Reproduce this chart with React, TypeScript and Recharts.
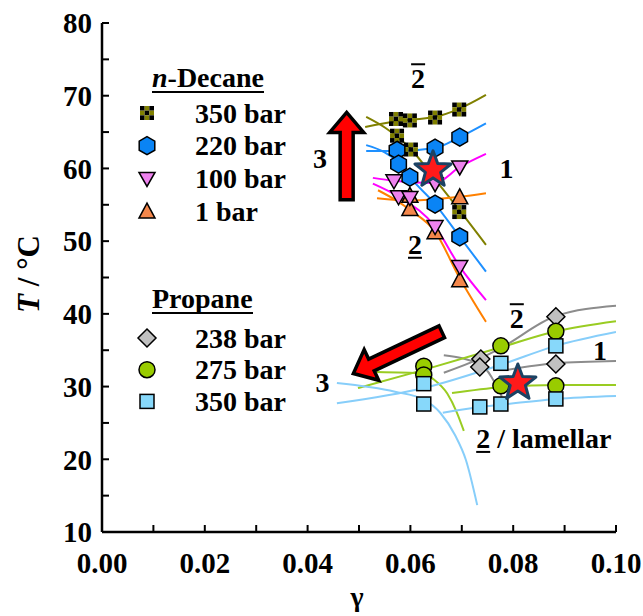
import React from "react";
import { ComposedChart, Line, Scatter, XAxis, YAxis, ReferenceLine } from "recharts";

const FONT = '"Liberation Serif", "Times New Roman", serif';

type Pt = { x: number; y: number };

// n-decane phase boundary points (gamma, T in °C)
const decane350: Pt[] = [
  { x: 0.0572, y: 66.8 }, { x: 0.0599, y: 66.6 }, { x: 0.0574, y: 64.5 }, { x: 0.0601, y: 62.6 },
  { x: 0.0648, y: 67.0 }, { x: 0.0695, y: 68.1 }, { x: 0.0695, y: 54.0 },
];
const decane220: Pt[] = [
  { x: 0.0574, y: 62.5 }, { x: 0.0648, y: 62.8 }, { x: 0.0696, y: 64.3 }, { x: 0.0577, y: 60.6 },
  { x: 0.0599, y: 58.8 }, { x: 0.0648, y: 55.1 }, { x: 0.0696, y: 50.6 },
];
const decane100: Pt[] = [
  { x: 0.0568, y: 58.3 }, { x: 0.0577, y: 56.1 }, { x: 0.0599, y: 56.0 }, { x: 0.0648, y: 52.0 },
  { x: 0.0696, y: 60.2 }, { x: 0.0696, y: 46.5 }, { x: 0.0648, y: 57.9 },
];
const decane1: Pt[] = [
  { x: 0.0599, y: 56.3 }, { x: 0.0599, y: 54.5 }, { x: 0.0648, y: 51.3 }, { x: 0.0696, y: 56.1 },
  { x: 0.0696, y: 44.7 },
];

// propane phase boundary points
const propane238: Pt[] = [
  { x: 0.0883, y: 39.6 }, { x: 0.0883, y: 33.1 }, { x: 0.0737, y: 33.8 }, { x: 0.0735, y: 32.7 },
];
const propane275: Pt[] = [
  { x: 0.0883, y: 37.6 }, { x: 0.0776, y: 35.6 }, { x: 0.0776, y: 30.1 }, { x: 0.0883, y: 30.1 },
  { x: 0.0626, y: 32.8 }, { x: 0.0626, y: 31.6 },
];
const propane350: Pt[] = [
  { x: 0.0883, y: 35.6 }, { x: 0.0776, y: 33.2 }, { x: 0.0776, y: 27.6 }, { x: 0.0735, y: 27.2 },
  { x: 0.0883, y: 28.3 }, { x: 0.0626, y: 30.4 }, { x: 0.0626, y: 27.6 },
];

// optimum formulations
const stars: Pt[] = [{ x: 0.0644, y: 59.8 }, { x: 0.0809, y: 30.5 }];

// guide curves, each read along the drawn boundary
const curves: { color: string; pts: Pt[] }[] = [
  { color: "#808000", pts: [{ x: 0.0512, y: 65.7 }, { x: 0.0572, y: 66.5 }, { x: 0.0648, y: 67.1 }, { x: 0.0695, y: 68.2 }, { x: 0.0747, y: 70.1 }] },
  { color: "#808000", pts: [{ x: 0.0514, y: 67.1 }, { x: 0.0551, y: 65.6 }, { x: 0.0599, y: 62.8 }, { x: 0.0648, y: 58.5 }, { x: 0.0695, y: 54.3 }, { x: 0.0747, y: 49.5 }] },
  { color: "#1E90FF", pts: [{ x: 0.0514, y: 62.4 }, { x: 0.0576, y: 62.4 }, { x: 0.0648, y: 62.8 }, { x: 0.0696, y: 64.3 }, { x: 0.0747, y: 66.2 }] },
  { color: "#1E90FF", pts: [{ x: 0.0514, y: 63.2 }, { x: 0.055, y: 62.2 }, { x: 0.0577, y: 60.8 }, { x: 0.0599, y: 58.8 }, { x: 0.0648, y: 55.1 }, { x: 0.0696, y: 50.6 }, { x: 0.0747, y: 45.8 }] },
  { color: "#FF00FF", pts: [{ x: 0.0527, y: 58.7 }, { x: 0.0568, y: 58.3 }, { x: 0.0648, y: 58.0 }, { x: 0.0696, y: 60.2 }, { x: 0.0747, y: 62.0 }] },
  { color: "#FF00FF", pts: [{ x: 0.0527, y: 57.9 }, { x: 0.0577, y: 56.1 }, { x: 0.0648, y: 52.0 }, { x: 0.0696, y: 46.5 }, { x: 0.0747, y: 41.9 }] },
  { color: "#FF8000", pts: [{ x: 0.0535, y: 55.9 }, { x: 0.0599, y: 55.6 }, { x: 0.0696, y: 56.1 }, { x: 0.0747, y: 56.6 }] },
  { color: "#FF8000", pts: [{ x: 0.0537, y: 57.0 }, { x: 0.057, y: 55.7 }, { x: 0.0599, y: 54.3 }, { x: 0.0648, y: 51.3 }, { x: 0.0696, y: 44.9 }, { x: 0.0747, y: 38.9 }] },
  { color: "#8C8C8C", pts: [{ x: 0.0665, y: 31.9 }, { x: 0.0737, y: 33.9 }, { x: 0.0776, y: 35.3 }, { x: 0.0883, y: 39.7 }, { x: 0.1, y: 41.1 }] },
  { color: "#8C8C8C", pts: [{ x: 0.0665, y: 34.3 }, { x: 0.0737, y: 33.0 }, { x: 0.0778, y: 28.6 }] },
  { color: "#8C8C8C", pts: [{ x: 0.0788, y: 32.3 }, { x: 0.0883, y: 33.2 }, { x: 0.1, y: 33.5 }] },
  { color: "#99CC22", pts: [{ x: 0.0498, y: 29.8 }, { x: 0.0626, y: 32.3 }, { x: 0.0776, y: 35.4 }, { x: 0.0883, y: 37.6 }, { x: 0.1, y: 39.0 }] },
  { color: "#99CC22", pts: [{ x: 0.0535, y: 32.0 }, { x: 0.0626, y: 31.8 }, { x: 0.0645, y: 31.0 }, { x: 0.0672, y: 29.0 }, { x: 0.069, y: 26.5 }, { x: 0.0704, y: 23.9 }] },
  { color: "#99CC22", pts: [{ x: 0.0681, y: 29.1 }, { x: 0.0776, y: 29.9 }, { x: 0.0883, y: 30.2 }, { x: 0.1, y: 30.2 }] },
  { color: "#87CEFA", pts: [{ x: 0.0457, y: 27.7 }, { x: 0.0626, y: 29.8 }, { x: 0.0776, y: 33.0 }, { x: 0.0883, y: 35.6 }, { x: 0.1, y: 37.5 }] },
  { color: "#87CEFA", pts: [{ x: 0.0457, y: 30.5 }, { x: 0.057, y: 29.3 }, { x: 0.0626, y: 28.2 }, { x: 0.0658, y: 26.4 }, { x: 0.0687, y: 23.3 }, { x: 0.0708, y: 19.9 }, { x: 0.073, y: 13.7 }] },
  { color: "#87CEFA", pts: [{ x: 0.0663, y: 26.4 }, { x: 0.0735, y: 27.2 }, { x: 0.0776, y: 27.5 }, { x: 0.0883, y: 28.3 }, { x: 0.1, y: 28.7 }] },
];

// arrows: tail -> tip
const arrows: [Pt, Pt][] = [
  [{ x: 0.0476, y: 55.7 }, { x: 0.0476, y: 67.7 }],
  [{ x: 0.0661, y: 37.55 }, { x: 0.0489, y: 31.8 }],
];

// phase region labels
const regionLabels = [
  { x: 0.0615, y: 72.4, text: "2", mark: "over" },
  { x: 0.0424, y: 61.4, text: "3", mark: "" },
  { x: 0.0787, y: 60.0, text: "1", mark: "" },
  { x: 0.0609, y: 49.5, text: "2", mark: "under" },
  { x: 0.0807, y: 39.4, text: "2", mark: "over" },
  { x: 0.0969, y: 35.0, text: "1", mark: "" },
  { x: 0.0429, y: 30.5, text: "3", mark: "" },
];
const lamellarLabel = [{ x: 0.0728, y: 22.8 }];

const xTicks = [0, 0.01, 0.02, 0.03, 0.04, 0.05, 0.06, 0.07, 0.08, 0.09, 0.1];
const yTicks = [10, 15, 20, 25, 30, 35, 40, 45, 50, 55, 60, 65, 70, 75, 80];

type SP = { cx?: number; cy?: number };

function CheckerSquare({ cx = 0, cy = 0 }: SP) {
  const n = 3, s = 14, c = s / n;
  const cells = [];
  for (let i = 0; i < n; i++)
    for (let j = 0; j < n; j++)
      cells.push(
        <rect key={`${i}-${j}`} x={cx - s / 2 + i * c} y={cy - s / 2 + j * c} width={c} height={c}
          fill={(i + j) % 2 === 0 ? "#000" : "#808000"} />
      );
  return <g>{cells}</g>;
}

function Hexagon({ cx = 0, cy = 0 }: SP) {
  const r = 9;
  const pts = [0, 1, 2, 3, 4, 5]
    .map((k) => {
      const a = (Math.PI / 3) * k - Math.PI / 2;
      return `${cx + r * Math.cos(a)},${cy + r * Math.sin(a)}`;
    })
    .join(" ");
  return <polygon points={pts} fill="#0A84F5" stroke="#000" strokeWidth={1.5} />;
}

function DownTri({ cx = 0, cy = 0 }: SP) {
  return <polygon points={`${cx - 8},${cy - 6} ${cx + 8},${cy - 6} ${cx},${cy + 8}`} fill="#EE82EE" stroke="#000" strokeWidth={1.5} />;
}

function UpTri({ cx = 0, cy = 0 }: SP) {
  return <polygon points={`${cx - 8},${cy + 7} ${cx + 8},${cy + 7} ${cx},${cy - 8}`} fill="#F4874B" stroke="#000" strokeWidth={1.5} />;
}

function Diamond({ cx = 0, cy = 0 }: SP) {
  return <polygon points={`${cx},${cy - 9} ${cx + 9},${cy} ${cx},${cy + 9} ${cx - 9},${cy}`} fill="#C0C0C0" stroke="#000" strokeWidth={1.5} />;
}

function Dot({ cx = 0, cy = 0 }: SP) {
  return <circle cx={cx} cy={cy} r={8} fill="#99CC00" stroke="#000" strokeWidth={1.5} />;
}

function Sq({ cx = 0, cy = 0 }: SP) {
  return <rect x={cx - 7} y={cy - 7} width={14} height={14} fill="#87D8FA" stroke="#000" strokeWidth={1.5} />;
}

function Star({ cx = 0, cy = 0 }: SP) {
  const R = 19, r = 8;
  const pts = Array.from({ length: 10 }, (_, k) => {
    const a = (Math.PI / 5) * k - Math.PI / 2;
    const rad = k % 2 === 0 ? R : r;
    return `${cx + rad * Math.cos(a)},${cy + rad * Math.sin(a)}`;
  }).join(" ");
  return <polygon points={pts} fill="#FF1A1A" stroke="#1B4263" strokeWidth={3} strokeLinejoin="round" />;
}

function Arrow(props: any) {
  const { x1, y1, x2, y2 } = props;
  const dx = x2 - x1, dy = y2 - y1;
  const L = Math.hypot(dx, dy);
  const ux = dx / L, uy = dy / L;
  const nx = -uy, ny = ux;
  const w = 6.5, hw = 17, hl = 20;
  const p = (a: number, b: number) => `${x1 + ux * a + nx * b},${y1 + uy * a + ny * b}`;
  const pts = [p(0, -w), p(L - hl, -w), p(L - hl, -hw), p(L, 0), p(L - hl, hw), p(L - hl, w), p(0, w)].join(" ");
  return <polygon points={pts} fill="#FF0000" stroke="#000" strokeWidth={3.5} strokeLinejoin="miter" />;
}

function RegionTag(props: any) {
  const { cx = 0, cy = 0, payload } = props;
  const hw = 7;
  return (
    <g>
      <text x={cx} y={cy} textAnchor="middle" dominantBaseline="central" fontFamily={FONT} fontWeight={700} fontSize={28} fill="#000">
        {payload.text}
      </text>
      {payload.mark === "over" && <line x1={cx - hw} x2={cx + hw} y1={cy - 14} y2={cy - 14} stroke="#000" strokeWidth={2} />}
      {payload.mark === "under" && <line x1={cx - hw} x2={cx + hw} y1={cy + 13} y2={cy + 13} stroke="#000" strokeWidth={2} />}
    </g>
  );
}

function LamellarTag({ cx = 0, cy = 0 }: SP) {
  return (
    <g>
      <text x={cx} y={cy} dominantBaseline="central" fontFamily={FONT} fontWeight={700} fontSize={28} fill="#000">
        2 / lamellar
      </text>
      <line x1={cx} x2={cx + 14} y1={cy + 13} y2={cy + 13} stroke="#000" strokeWidth={2} />
    </g>
  );
}

const decaneLegend = [
  { name: "350 bar", Shape: CheckerSquare },
  { name: "220 bar", Shape: Hexagon },
  { name: "100 bar", Shape: DownTri },
  { name: "1 bar", Shape: UpTri },
];
const propaneLegend = [
  { name: "238 bar", Shape: Diamond },
  { name: "275 bar", Shape: Dot },
  { name: "350 bar", Shape: Sq },
];

const tickStyle = { fill: "#000", fontSize: 29, fontWeight: 700, fontFamily: FONT };
const axisLine = { stroke: "#000", strokeWidth: 2.5 };
const tickLine = { stroke: "#000", strokeWidth: 2 };

function Overlay() {
  const txt = { fontFamily: FONT, fontWeight: 700, fontSize: 28, fill: "#000" } as const;
  return (
    <svg width={643} height={616} style={{ position: "absolute", left: 0, top: 0, pointerEvents: "none" }}>
      <text x={152} y={87} {...txt}>
        <tspan fontStyle="italic">n</tspan>-Decane
      </text>
      <line x1={152} x2={264} y1={92} y2={92} stroke="#000" strokeWidth={2} />
      {decaneLegend.map((d, i) => (
        <g key={d.name}>
          <d.Shape cx={147} cy={113 + i * 32.7} />
          <text x={195} y={113 + i * 32.7} dominantBaseline="central" {...txt}>{d.name}</text>
        </g>
      ))}
      <text x={152} y={308} {...txt}>Propane</text>
      <line x1={152} x2={253} y1={313} y2={313} stroke="#000" strokeWidth={2} />
      {propaneLegend.map((d, i) => (
        <g key={d.name}>
          <d.Shape cx={147} cy={338 + i * 31.7} />
          <text x={195} y={338 + i * 31.7} dominantBaseline="central" {...txt}>{d.name}</text>
        </g>
      ))}
      <text transform="translate(28,274) rotate(-90)" textAnchor="middle" dominantBaseline="central" {...txt} fontSize={31}>
        <tspan fontStyle="italic">T</tspan> / °C
      </text>
      <text x={357} y={596} textAnchor="middle" dominantBaseline="central" {...txt}>γ</text>
    </svg>
  );
}

export default function App() {
  return (
    <div style={{ position: "absolute", left: 0, top: 0, width: 643, height: 616, background: "#fff" }}>
      <ComposedChart width={643} height={616} margin={{ top: 23, right: 27, bottom: 0, left: 0 }}>
        <XAxis
          type="number" dataKey="x" domain={[0, 0.1]} ticks={xTicks} interval={0} height={84}
          allowDataOverflow tickSize={-7} tickMargin={27} axisLine={axisLine} tickLine={tickLine} tick={tickStyle}
          tickFormatter={(v: number) => (Math.round(v * 100) % 2 === 0 ? v.toFixed(2) : "")}
        />
        <XAxis
          xAxisId="top" orientation="top" type="number" domain={[0, 0.1]} ticks={xTicks} interval={0} height={0}
          allowDataOverflow tickSize={-7} axisLine={axisLine} tickLine={tickLine} tickFormatter={() => ""}
        />
        <YAxis
          type="number" dataKey="y" domain={[10, 80]} ticks={yTicks} interval={0} width={102}
          allowDataOverflow tickSize={-7} tickMargin={17} axisLine={axisLine} tickLine={tickLine} tick={tickStyle}
          tickFormatter={(v: number) => (v % 10 === 0 ? String(v) : "")}
        />
        <YAxis
          yAxisId="right" orientation="right" type="number" domain={[10, 80]} ticks={yTicks} interval={0} width={0}
          allowDataOverflow tickSize={-7} axisLine={axisLine} tickLine={tickLine} tickFormatter={() => ""}
        />
        {curves.map((c, i) => (
          <Line key={i} data={c.pts} dataKey="y" type="monotone" stroke={c.color} strokeWidth={2}
            dot={false} activeDot={false} isAnimationActive={false} />
        ))}
        {arrows.map((a, i) => (
          <ReferenceLine key={i} segment={a} shape={Arrow} ifOverflow="visible" />
        ))}
        <Scatter data={decane350} dataKey="y" shape={CheckerSquare} isAnimationActive={false} />
        <Scatter data={decane220} dataKey="y" shape={Hexagon} isAnimationActive={false} />
        <Scatter data={decane1} dataKey="y" shape={UpTri} isAnimationActive={false} />
        <Scatter data={decane100} dataKey="y" shape={DownTri} isAnimationActive={false} />
        <Scatter data={propane238} dataKey="y" shape={Diamond} isAnimationActive={false} />
        <Scatter data={propane275} dataKey="y" shape={Dot} isAnimationActive={false} />
        <Scatter data={propane350} dataKey="y" shape={Sq} isAnimationActive={false} />
        <Scatter data={stars} dataKey="y" shape={Star} isAnimationActive={false} />
        <Scatter data={regionLabels} dataKey="y" shape={RegionTag} isAnimationActive={false} />
        <Scatter data={lamellarLabel} dataKey="y" shape={LamellarTag} isAnimationActive={false} />
      </ComposedChart>
      <Overlay />
    </div>
  );
}
